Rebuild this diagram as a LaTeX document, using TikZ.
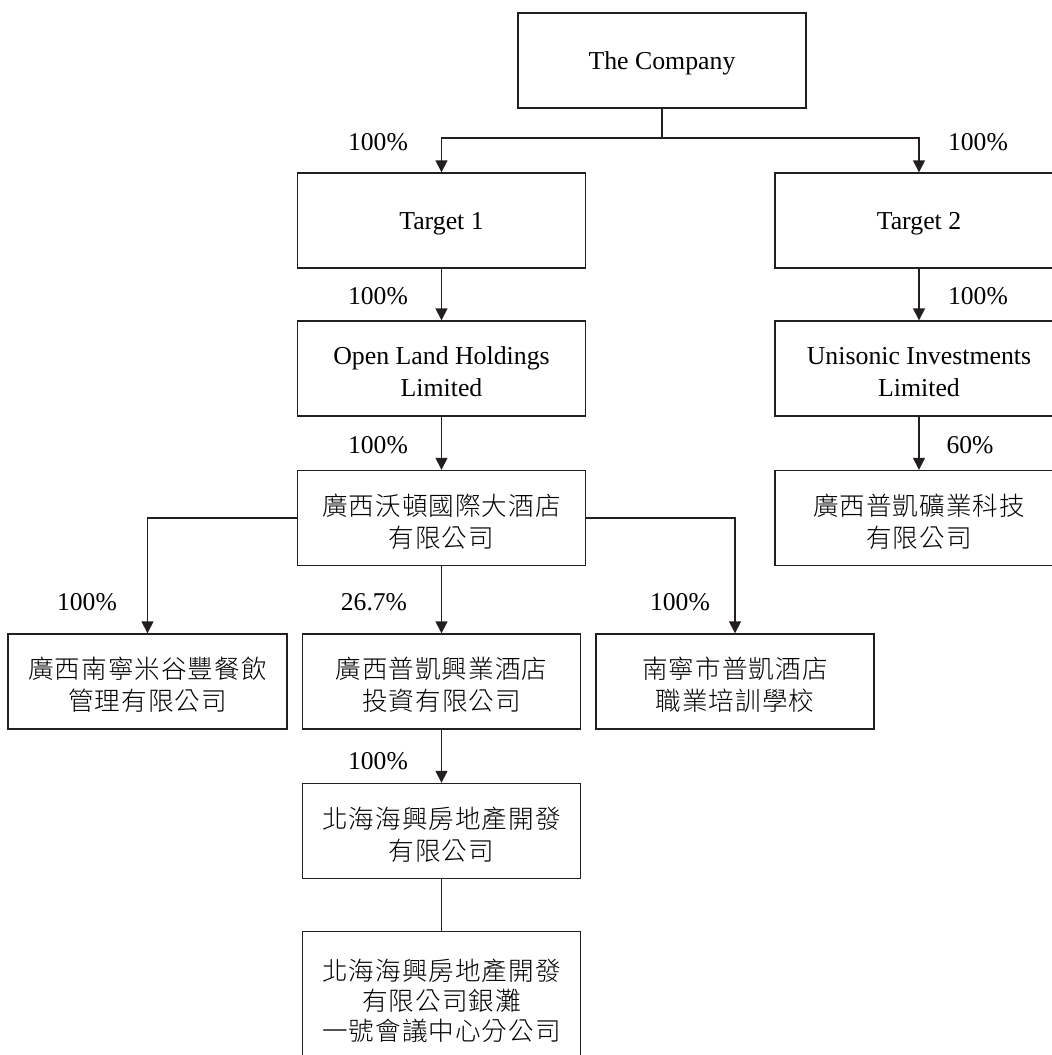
\documentclass[tikz,border=0pt]{standalone}
\usepackage{fontspec}
\setmainfont{Liberation Serif}
\newfontfamily\cjk{Noto Sans CJK TC}[UprightFont={* Light}, LetterSpace=4]
\usetikzlibrary{arrows.meta}
\definecolor{ln}{HTML}{231F20}
\begin{document}
\begin{tikzpicture}[x=0.5pt,y=-0.5pt,
  box/.style={draw=ln, line width=0.68pt, minimum width=144pt, minimum height=47.5pt, align=center, inner sep=0pt, font=\fontsize{12.9}{16}\selectfont},
  one/.style={text depth=0pt, text height=9pt},
  two/.style={text height=27.5pt, text depth=0pt},
  cbox/.style={box, text height=30.5pt, text depth=1.5pt, font=\cjk\fontsize{12.8}{16}\selectfont},
  sbox/.style={cbox, minimum width=139pt},
  arr/.style={draw=ln, line width=0.68pt, -{Triangle[length=6pt,width=6pt]}},
  ln/.style={draw=ln, line width=0.68pt},
  pct/.style={font=\fontsize{12.8}{16}\selectfont, inner sep=0pt}]
\useasboundingbox (0,0) rectangle (1052,1055);
\fill[white] (0,0) rectangle (1052,1055);
% boxes
\node[box, one] (co) at (662,60.5) {The Company};
\node[box, one] (t1) at (441.5,220.5) {Target 1};
\node[box, one] (t2) at (919,220.5) {Target 2};
\node[box, two] (ol) at (441.5,368.5) {Open Land Holdings\\Limited};
\node[box, two] (ui) at (919,368.5) {Unisonic Investments\\Limited};
\node[cbox] (gx) at (441.5,518) {廣西沃頓國際大酒店\\有限公司};
\node[cbox] (pk) at (919,518) {廣西普凱礦業科技\\有限公司};
\node[sbox, minimum width=139.5pt] (lb) at (147.5,681.5) {廣西南寧米谷豐餐飲\\管理有限公司};
\node[sbox] (mb) at (441.5,681.5) {廣西普凱興業酒店\\投資有限公司};
\node[sbox] (rb) at (735,681.5) {南寧市普凱酒店\\職業培訓學校};
\node[sbox] (bh) at (441.5,831) {北海海興房地產開發\\有限公司};
\node[box, minimum width=139pt, minimum height=69pt, font=\cjk\fontsize{12.8}{15}\selectfont] (bb) at (441.5,1000.5) {北海海興房地產開發\\有限公司銀灘\\一號會議中心分公司};
% connectors
\coordinate (j) at (662,138);
\draw[ln] (co.south) -- (j);
\draw[arr] (j) -| (t1.north);
\draw[arr] (j) -| (t2.north);
\draw[arr] (t1) -- (ol);
\draw[arr] (t2) -- (ui);
\draw[arr] (ol) -- (gx);
\draw[arr] (ui) -- (pk);
\draw[arr] (gx.west) -| (lb.north);
\draw[arr] (gx.south) -- (mb.north);
\draw[arr] (gx.east) -| (rb.north);
\draw[arr] (mb) -- (bh);
\draw[ln] (bh.south) -- (bb.north);
% labels
\node[pct] (l1) at (378,142) {100\%};
\node[pct] (l2) at (978,142) {100\%};
\node[pct] (l3) at (378,296) {100\%};
\node[pct] (l4) at (978,296) {100\%};
\node[pct] (l5) at (378,445) {100\%};
\node[pct] (l6) at (970,445) {60\%};
\node[pct] (l7) at (87,602) {100\%};
\node[pct] (l8) at (374,602) {26.7\%};
\node[pct] (l9) at (680,602) {100\%};
\node[pct] (l10) at (378,761) {100\%};
\end{tikzpicture}
\end{document}
